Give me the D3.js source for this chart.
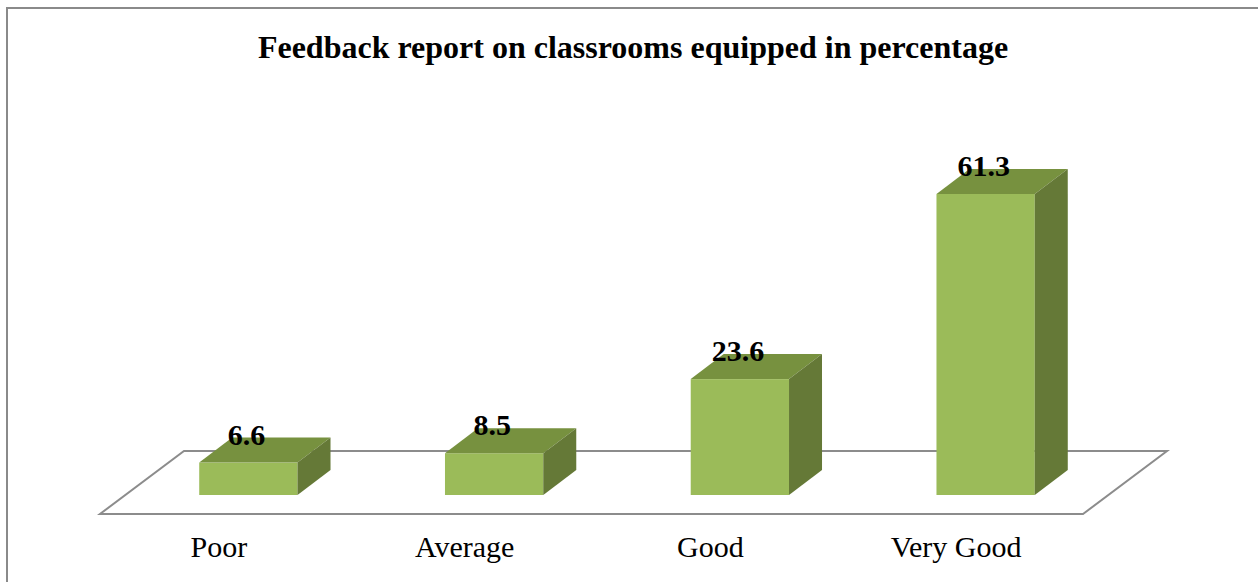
<!DOCTYPE html>
<html>
<head>
<meta charset="utf-8">
<script src="https://cdn.jsdelivr.net/npm/d3@7"></script>
<style>
  body { margin: 0; background: #fff; }
  svg { display: block; font-family: 'Liberation Serif', 'Times New Roman', serif; }
</style>
</head>
<body>
<div class="canvas"></div>
<script>
var categories = ['Poor', 'Average', 'Good', 'Very Good'];
var values = [6.6, 8.5, 23.6, 61.3];
var title = 'Feedback report on classrooms equipped in percentage';

var W = 1258, H = 582;

// floor front edge and depth of the 3d floor
var floor = {x0: 100, x1: 1083, y: 514, dx: 84, dy: -63};
// bar depth
var bd = {dx: 33, dy: -25};
// bars sit in the middle of the floor depth
var off = {dx: (floor.dx - bd.dx) / 2, dy: (floor.dy - bd.dy) / 2};
var base = floor.y + off.dy;

var svg = d3.select('.canvas')
    .append('svg')
    .attr('width', W)
    .attr('height', H);

// chart border (left and top visible)
svg.append('path')
    .attr('d', 'M7,' + H + 'V8H' + W)
    .style('fill', 'none')
    .style('stroke', '#8a8a8a')
    .style('stroke-width', 2);

svg.append('text')
    .attr('x', 633)
    .attr('y', 58)
    .attr('text-anchor', 'middle')
    .style('font-weight', 'bold')
    .style('font-size', '32px')
    .text(title);

//Scale
var scaleX = d3.scaleBand()
    .domain(categories)
    .range([floor.x0, floor.x1])
    .paddingInner(0.6)
    .paddingOuter(0.3);
var scaleY = d3.scaleLinear()
    .domain([0, 61.3])
    .range([0, 301]);

// floor
svg.append('path')
    .attr('d', 'M' + floor.x0 + ',' + floor.y +
        'L' + floor.x1 + ',' + floor.y +
        'L' + (floor.x1 + floor.dx) + ',' + (floor.y + floor.dy) +
        'L' + (floor.x0 + floor.dx) + ',' + (floor.y + floor.dy) + 'Z')
    .style('fill', '#fff')
    .style('stroke', '#8c8c8c')
    .style('stroke-width', 2);

var rows = categories.map(function(c, i){ return {cat: c, value: values[i]}; });

var bar = svg.selectAll('.bar')
    .data(rows)
    .enter()
    .append('g')
    .attr('class', 'bar');

function bx(d){ return scaleX(d.cat) + off.dx; }
function by(d){ return base - scaleY(d.value); }
var bw = scaleX.bandwidth();

// front face
bar.append('rect')
    .attr('x', bx)
    .attr('y', by)
    .attr('width', bw)
    .attr('height', function(d){ return scaleY(d.value); })
    .style('fill', '#9bbb59');
// top face
bar.append('path')
    .attr('d', function(d){
        var x = bx(d), y = by(d);
        return 'M' + x + ',' + y + 'L' + (x + bw) + ',' + y +
            'L' + (x + bw + bd.dx) + ',' + (y + bd.dy) +
            'L' + (x + bd.dx) + ',' + (y + bd.dy) + 'Z';
    })
    .style('fill', '#77913f');
// side face
bar.append('path')
    .attr('d', function(d){
        var x = bx(d) + bw, y = by(d);
        return 'M' + x + ',' + y + 'L' + (x + bd.dx) + ',' + (y + bd.dy) +
            'L' + (x + bd.dx) + ',' + (base + bd.dy) +
            'L' + x + ',' + base + 'Z';
    })
    .style('fill', '#657937');

// value labels
bar.append('text')
    .attr('x', function(d){ return bx(d) + bw / 2 - 2; })
    .attr('y', function(d){ return by(d) + bd.dy + 7; })
    .attr('text-anchor', 'middle')
    .style('font-weight', 'bold')
    .style('font-size', '30px')
    .text(function(d){ return d.value; });

// category labels along front edge
var scaleCat = d3.scaleBand().domain(categories).range([floor.x0, floor.x1]);
svg.selectAll('.cat')
    .data(categories)
    .enter()
    .append('text')
    .attr('class', 'cat')
    .attr('x', function(d){ return scaleCat(d) + scaleCat.bandwidth() / 2 - 4; })
    .attr('y', 557)
    .attr('text-anchor', 'middle')
    .style('font-size', '30px')
    .text(function(d){ return d; });
</script>
</body>
</html>
